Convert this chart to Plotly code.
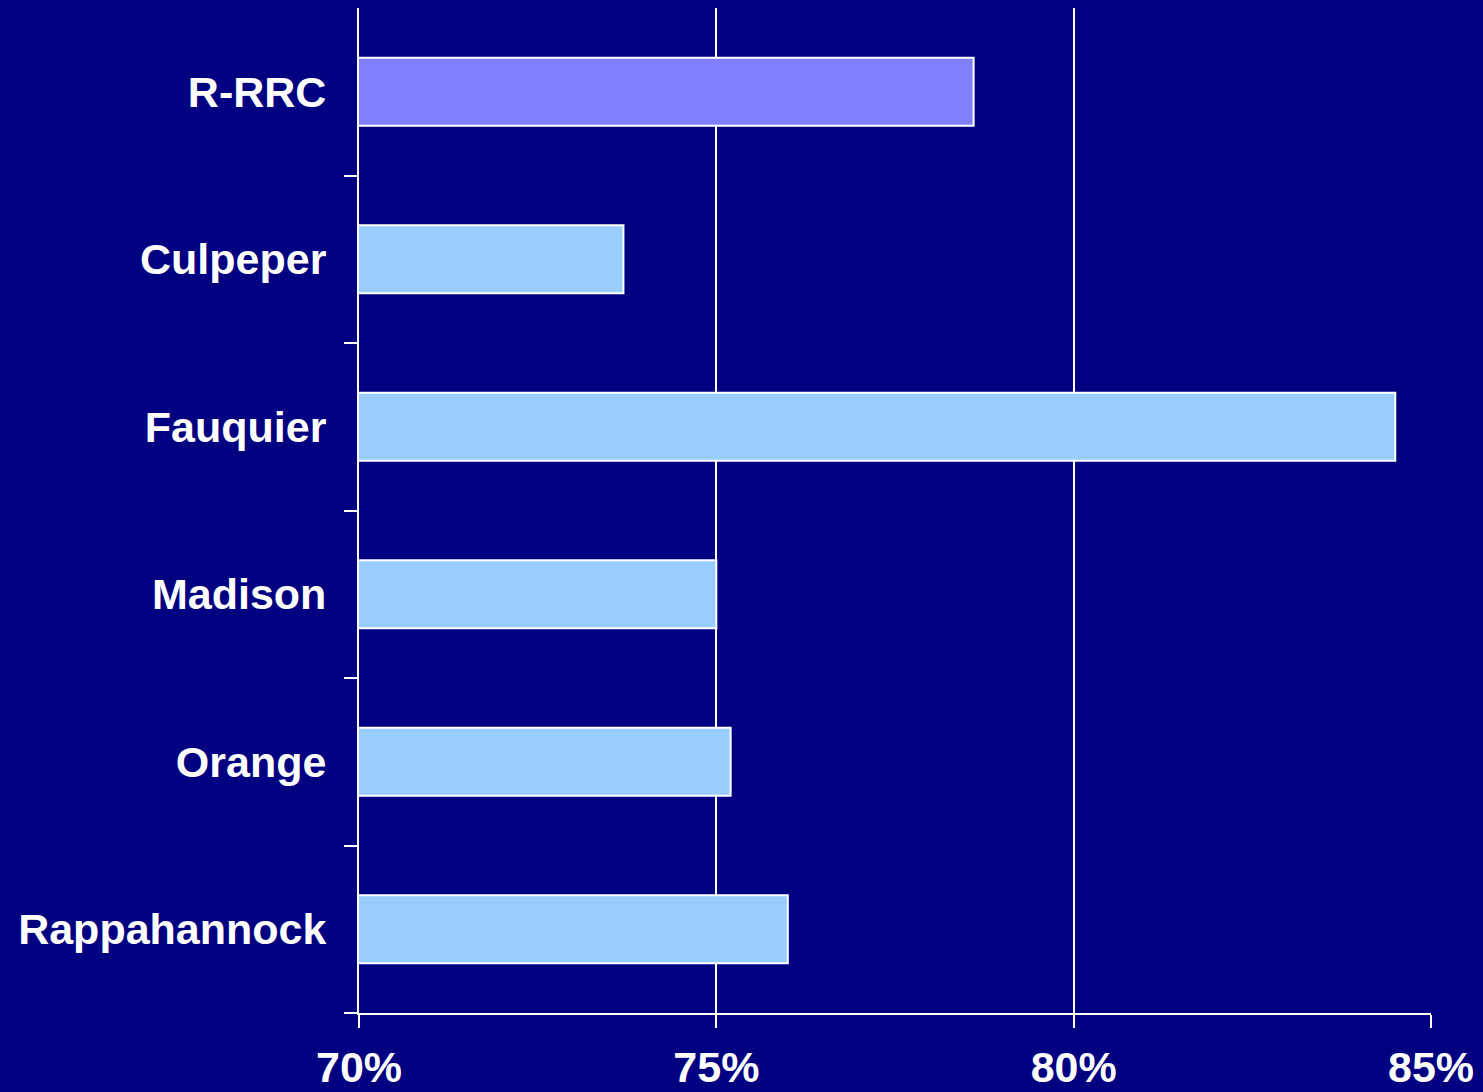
import plotly.graph_objects as go

# Data (percent)
counties = ["R-RRC", "Culpeper", "Fauquier", "Madison", "Orange", "Rappahannock"]
values = [78.6, 73.7, 84.5, 75.0, 75.2, 76.0]
bar_colors = ["#8080FF", "#99CCFF", "#99CCFF", "#99CCFF", "#99CCFF", "#99CCFF"]
x_ticks = [70, 75, 80, 85]
x_tick_labels = ["70%", "75%", "80%", "85%"]

fig = go.Figure(go.Bar(
    x=values,
    y=counties,
    orientation="h",
    marker=dict(color=bar_colors, line=dict(color="white", width=2)),
))

fig.update_layout(
    width=1483,
    height=1092,
    paper_bgcolor="#000080",
    plot_bgcolor="#000080",
    font=dict(family="Liberation Sans, Arial, sans-serif", size=43, color="white"),
    margin=dict(l=359, r=52, t=8, b=79),
    bargap=0.594,
    showlegend=False,
)

fig.update_xaxes(
    range=[70, 85],
    tickvals=x_ticks,
    ticktext=[f"<b>{t}</b>" for t in x_tick_labels],
    showgrid=True,
    gridcolor="white",
    gridwidth=2,
    showline=True,
    linecolor="white",
    linewidth=2,
    ticks="outside",
    ticklen=13,
    tickwidth=2,
    tickcolor="white",
    zeroline=False,
    ticklabelstandoff=2,
    automargin=False,
)

fig.update_yaxes(
    categoryorder="array",
    categoryarray=counties[::-1],
    tickvals=counties,
    ticktext=[f"<b>{c}</b>" for c in counties],
    tickson="boundaries",
    showgrid=False,
    showline=True,
    linecolor="white",
    linewidth=2,
    ticks="outside",
    ticklen=13,
    tickwidth=2,
    tickcolor="white",
    ticklabelstandoff=22,
    automargin=False,
)

# drop the default page margin so the chart sits flush with the window
fig.write_html(
    "out.html",
    config={"displayModeBar": False},
    post_script="document.body.style.margin='0';document.body.style.overflow='hidden';",
)
